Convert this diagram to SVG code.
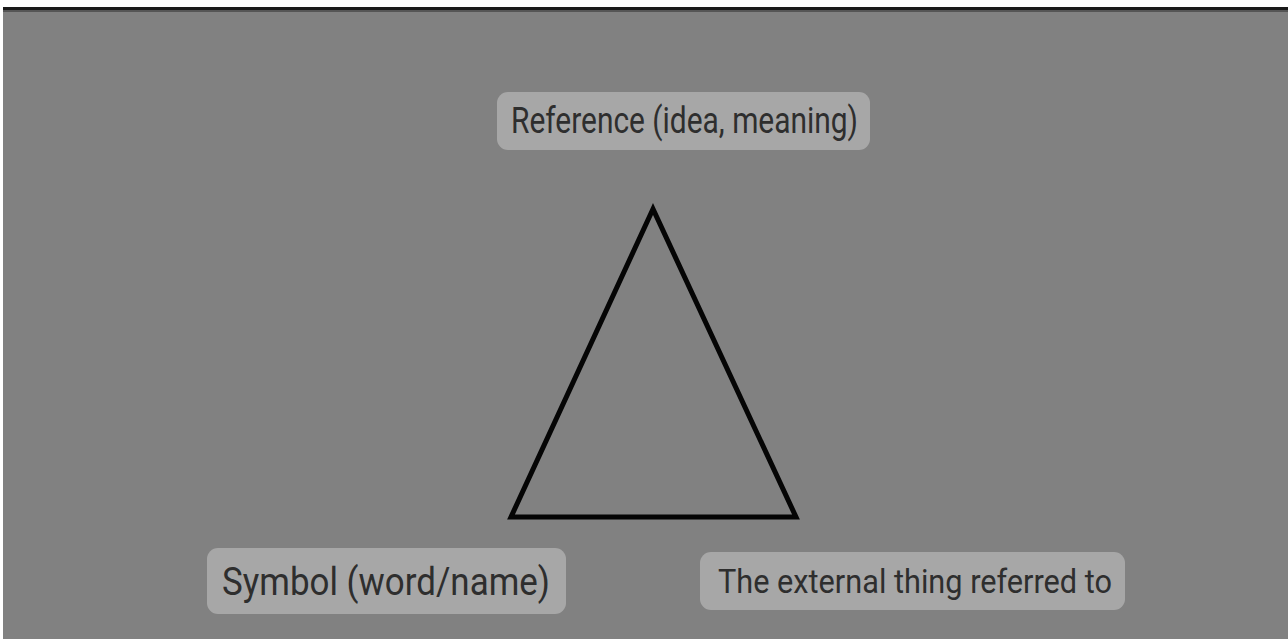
<svg xmlns="http://www.w3.org/2000/svg" width="1288" height="639" viewBox="0 0 1288 639">
<style>
.box{fill:#a7a7a7;}
.lbl{font-family:Roboto,"Liberation Sans",sans-serif;fill:#2e2e2e;}
.edge{fill:none;stroke:#050505;stroke-width:5;stroke-linejoin:miter;}
</style>
<rect x="0" y="0" width="1288" height="639" fill="#ffffff"/>
<rect x="3" y="7" width="1285" height="632" fill="#818181"/>
<rect x="3" y="7" width="1285" height="3" fill="#1a1a1a"/>
<rect x="3" y="10" width="1285" height="2" fill="#555555"/>
<g id="connectors">
<path class="edge" d="M653,209 L511,517 L796,517 Z"/>
</g>
<g id="reference">
<rect class="box" x="497" y="92" width="373" height="58" rx="11"/>
<text class="lbl" x="511" y="133" font-size="36" textLength="347" lengthAdjust="spacingAndGlyphs">Reference (idea, meaning)</text>
</g>
<g id="symbol">
<rect class="box" x="207" y="548" width="359" height="66" rx="11"/>
<text class="lbl" x="222" y="595" font-size="38" textLength="328" lengthAdjust="spacingAndGlyphs">Symbol (word/name)</text>
</g>
<g id="referent">
<rect class="box" x="700" y="552" width="425" height="58" rx="11"/>
<text class="lbl" x="718" y="593" font-size="33" textLength="394" lengthAdjust="spacingAndGlyphs">The external thing referred to</text>
</g>
</svg>
